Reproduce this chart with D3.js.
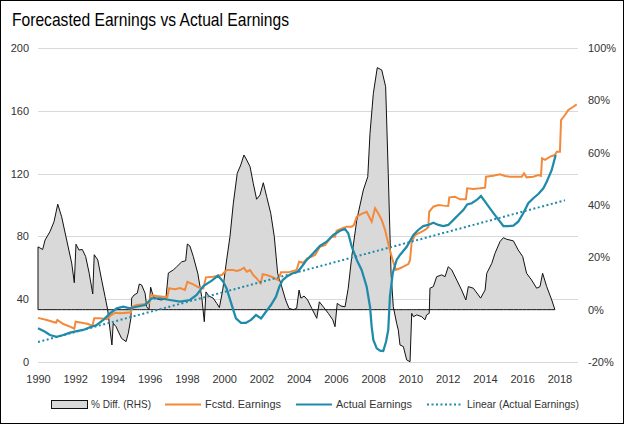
<!DOCTYPE html>
<html>
<head>
<meta charset="utf-8">
<script src="https://cdn.jsdelivr.net/npm/d3@7"></script>
<style>
    body { margin: 0; background: #fff; }
    svg { display: block; font-family: 'Liberation Sans', Arial, sans-serif; }
</style>
</head>
<body>
<div id="chart"></div>
<script>
'use strict';

// % difference between forecast and actual (right axis), [year, %]
let pctDiff = [
    [1990.00, 24], [1990.25, 23], [1990.38, 26.6], [1990.64, 29.8], [1990.86, 33.6], [1991.06, 40.3],
    [1991.27, 35.5], [1991.54, 26.6], [1991.81, 17.8], [1991.95, 10.3], [1992.04, 25], [1992.20, 22.8],
    [1992.38, 23], [1992.56, 20.3], [1992.75, 13.9], [1992.94, 6], [1993.02, 21], [1993.21, 19],
    [1993.42, 11.3], [1993.60, 5], [1993.74, 0], [1993.87, -7.8], [1993.97, -13.5], [1994.04, -5.2],
    [1994.19, -6.5], [1994.49, -11], [1994.73, -12.2], [1994.85, -9], [1994.99, -3.3], [1995.03, 4.4],
    [1995.16, 5.6], [1995.33, 6.3], [1995.44, 9.8], [1995.57, 9.4], [1995.75, 6.3], [1995.84, 1.1],
    [1995.96, 0], [1996.05, 8.6], [1996.19, 5], [1996.43, 4], [1996.64, 3.7], [1996.87, 4.4],
    [1997.00, 14], [1997.27, 15.2], [1997.45, 16.4], [1997.72, 18.3], [1997.93, 18.7], [1998.02, 25.1],
    [1998.16, 24.3], [1998.34, 20.3], [1998.58, 13.9], [1998.79, 5], [1998.93, -4.6], [1999.02, 6.8],
    [1999.18, 5.2], [1999.41, 4.4], [1999.60, 2.4], [1999.74, 0.8], [1999.92, 7.5], [2000.13, 19],
    [2000.31, 27.9], [2000.49, 40.7], [2000.70, 52.1], [2000.89, 55.3], [2001.06, 59.1], [2001.21, 57.2],
    [2001.39, 54.6], [2001.56, 48.3], [2001.74, 42.2], [2001.92, 43.8], [2002.10, 48.5], [2002.28, 43.2],
    [2002.50, 36.8], [2002.69, 27.9], [2002.87, 13.9], [2003.09, 8.8], [2003.30, 3.7], [2003.48, 0.5],
    [2003.71, 0], [2003.89, 0.5], [2004.02, 7.5], [2004.12, 4.4], [2004.29, 5.2], [2004.48, 3.7],
    [2004.70, 0.5], [2004.97, -3.3], [2005.11, 3], [2005.32, 1.1], [2005.59, -1.4], [2005.83, -3.9],
    [2005.95, -6.5], [2006.07, 2.4], [2006.27, 1.4], [2006.49, 1.1], [2006.66, 8.2], [2006.85, 20.3],
    [2007.12, 34.3], [2007.47, 45.7], [2007.71, 50.8], [2007.83, 67.4], [2008.01, 82.7], [2008.22, 92.5],
    [2008.46, 91.6], [2008.67, 85.2], [2008.81, 52], [2008.96, 13.9], [2009.08, 1.1], [2009.26, -5.2],
    [2009.35, -7.8], [2009.44, -13.5], [2009.62, -14.1], [2009.80, -19.2], [2009.98, -19.9], [2010.07, -1.4],
    [2010.16, -2.7], [2010.34, -2], [2010.61, -2.7], [2010.78, -3.9], [2010.87, -2], [2011.01, -1.4],
    [2011.05, 8.2], [2011.23, 8.8], [2011.41, 12.6], [2011.68, 13.3], [2011.86, 12.6], [2012.03, 16.4],
    [2012.22, 15.2], [2012.49, 11.3], [2012.75, 7.5], [2012.98, 3.7], [2013.11, 8.8], [2013.38, 8.2],
    [2013.65, 5.6], [2013.77, 4.4], [2014.01, 7.5], [2014.10, 13.9], [2014.37, 17.7], [2014.54, 21.5],
    [2014.81, 26], [2014.99, 27.5], [2015.17, 26.9], [2015.53, 26.3], [2015.79, 22.8], [2016.03, 20.3],
    [2016.24, 13.9], [2016.51, 11.3], [2016.78, 8.2], [2016.96, 8.8], [2017.10, 13.9], [2017.32, 8.8],
    [2017.59, 3.7], [2017.76, 0]
];

// forecasted earnings (left axis), [year, value]
let fcstEarnings = [
    [1990.00, 28.1], [1990.47, 26.8], [1990.97, 25], [1991.04, 26.8], [1991.36, 24.2], [1991.72, 22.5],
    [1991.95, 21.2], [1992.02, 25.7], [1992.35, 25], [1992.70, 24.2], [1992.92, 22.9], [1993.02, 27.8],
    [1993.33, 27.8], [1993.69, 27.2], [1993.87, 29.3], [1994.14, 31.4], [1994.40, 31], [1994.76, 31.4],
    [1994.99, 31.7], [1995.06, 35.2], [1995.30, 36.3], [1995.65, 36.8], [1995.98, 37.4], [1996.05, 42.7],
    [1996.37, 42], [1996.73, 41.6], [1996.94, 41.2], [1997.04, 46.9], [1997.36, 46.3], [1997.63, 47.1],
    [1997.89, 45.9], [1998.02, 51.1], [1998.34, 49.5], [1998.61, 47.6], [1998.88, 46.9], [1999.02, 53.9],
    [1999.41, 54.3], [1999.87, 55.4], [2000.13, 58.6], [2000.49, 58.6], [2000.67, 58], [2000.85, 58.6],
    [2001.06, 60], [2001.21, 57.5], [2001.39, 58.6], [2001.56, 55.4], [2001.74, 53.3], [2001.96, 50.1],
    [2002.07, 55.9], [2002.28, 55.4], [2002.55, 54.3], [2002.90, 52.2], [2003.05, 57.1], [2003.44, 57.1],
    [2003.89, 58.6], [2004.02, 63.9], [2004.25, 63.2], [2004.46, 66], [2004.70, 67.1], [2004.88, 68.2],
    [2005.14, 73.4], [2005.41, 74.5], [2005.59, 77.1], [2005.77, 79.8], [2005.95, 79.8], [2006.04, 83.6],
    [2006.36, 85.2], [2006.58, 86.2], [2006.85, 86.2], [2006.97, 87.3], [2007.12, 92.6], [2007.38, 94.3],
    [2007.65, 95.7], [2007.92, 89.4], [2008.10, 97.9], [2008.27, 94.7], [2008.46, 90.4], [2008.64, 84.1],
    [2008.85, 73.4], [2009.02, 66], [2009.22, 58.6], [2009.44, 59.7], [2009.62, 60.7], [2009.89, 62.4],
    [2009.98, 65], [2010.07, 76.6], [2010.25, 80.9], [2010.51, 82.4], [2010.78, 84.1], [2010.96, 85.8],
    [2011.01, 95.7], [2011.23, 98.9], [2011.50, 100], [2011.77, 99.6], [2012.03, 99.4], [2012.09, 104.9],
    [2012.39, 105.3], [2012.66, 103.6], [2012.98, 103.6], [2013.05, 110.6], [2013.38, 110.2], [2013.74, 110.6],
    [2014.01, 111], [2014.06, 118], [2014.45, 118.7], [2014.81, 119.6], [2015.08, 118.5], [2015.35, 118],
    [2015.71, 118], [2015.98, 118], [2016.10, 120.2], [2016.24, 117.6], [2016.60, 118], [2016.87, 119.1],
    [2017.01, 118.5], [2017.07, 129.7], [2017.23, 128.7], [2017.50, 130.8], [2017.76, 131.8], [2017.86, 133.9],
    [2018.03, 133.9], [2018.09, 154.1], [2018.30, 157.3], [2018.48, 160.5], [2018.75, 162.6], [2018.93, 164.1]
];

// actual earnings (left axis), [year, value]
let actualEarnings = [
    [1990.00, 21.5], [1990.38, 19.3], [1990.64, 17.2], [1991.00, 16.1], [1991.36, 17.2], [1991.72, 18.7],
    [1992.08, 19.7], [1992.43, 20.4], [1992.79, 22.1], [1993.15, 23.6], [1993.51, 26.8], [1993.87, 31],
    [1994.23, 34.2], [1994.58, 35.2], [1994.94, 34.2], [1995.30, 35.2], [1995.75, 36.3], [1996.11, 40.6],
    [1996.55, 40.6], [1997.09, 39.5], [1997.63, 38.4], [1998.16, 39.5], [1998.52, 42.7], [1998.88, 48.4],
    [1999.33, 51.8], [1999.67, 55], [1999.95, 51.1], [2000.13, 46.9], [2000.36, 38], [2000.63, 27.8],
    [2000.90, 25], [2001.17, 25], [2001.44, 26.8], [2001.71, 29.9], [2001.98, 27.8], [2002.24, 32],
    [2002.51, 36.3], [2002.78, 41.6], [2002.96, 48], [2003.14, 52.2], [2003.41, 54.8], [2003.68, 56.5],
    [2003.95, 57.5], [2004.16, 60.7], [2004.43, 65], [2004.78, 69.2], [2005.14, 73.9], [2005.50, 76.6],
    [2005.86, 80.9], [2006.22, 83.6], [2006.49, 84.7], [2006.66, 82], [2006.85, 73.4], [2007.12, 65],
    [2007.38, 58.6], [2007.65, 48], [2007.83, 35.2], [2007.92, 22.5], [2008.01, 14], [2008.19, 8.7],
    [2008.37, 7.2], [2008.54, 7], [2008.69, 12.9], [2008.81, 20.4], [2008.90, 41.6], [2009.05, 56.5],
    [2009.26, 65], [2009.44, 68.2], [2009.80, 73.4], [2010.16, 80.9], [2010.42, 84.1], [2010.69, 86.6],
    [2010.96, 87.3], [2011.23, 88.7], [2011.50, 87.3], [2011.77, 86.6], [2012.03, 87.3], [2012.30, 90.4],
    [2012.57, 93.6], [2012.84, 96.8], [2013.05, 100.4], [2013.29, 101.1], [2013.56, 103.2], [2013.79, 105.7],
    [2014.01, 102.1], [2014.27, 97.9], [2014.54, 93.6], [2014.81, 89.4], [2014.99, 86.6], [2015.26, 86.6],
    [2015.53, 86.8], [2015.79, 89.4], [2016.06, 94.7], [2016.33, 101.1], [2016.60, 104.3], [2016.87, 107],
    [2017.14, 110.6], [2017.32, 114.8], [2017.59, 122.3], [2017.80, 131.8]
];

let leftTicks = [0, 40, 80, 120, 160, 200];
let rightTicks = [-20, 0, 20, 40, 60, 80, 100];
let yearTicks = d3.range(1990, 2019, 2);
let legendLabels = ['% Diff. (RHS)', 'Fcstd. Earnings', 'Actual Earnings', 'Linear (Actual Earnings)'];

let width = 624,
    height = 424;
let orange = '#f4893a',
    blue = '#1f8aa9';

let svg = d3.select('#chart')
    .append('svg')
    .attr('width', width)
    .attr('height', height);

svg.append('rect')
    .attr('x', 0.5).attr('y', 0.5)
    .attr('width', width - 1).attr('height', height - 1)
    .attr('fill', '#fff')
    .attr('stroke', '#000');

svg.append('text')
    .attr('x', 12)
    .attr('y', 26)
    .attr('font-size', 19)
    .attr('fill', '#000')
    .attr('textLength', 277)
    .attr('lengthAdjust', 'spacingAndGlyphs')
    .text('Forecasted Earnings vs Actual Earnings');

let x = d3.scaleLinear().domain([1990, 2019]).range([38, 578]);
let yLeft = d3.scaleLinear().domain([0, 200]).range([362, 48]);
let yRight = d3.scaleLinear().domain([-20, 100]).range([362, 48]);

// gridlines
svg.append('g')
    .selectAll('line')
    .data(leftTicks)
    .enter().append('line')
    .attr('x1', x.range()[0])
    .attr('x2', x.range()[1])
    .attr('y1', function(d) { return Math.round(yLeft(d)) + 0.5; })
    .attr('y2', function(d) { return Math.round(yLeft(d)) + 0.5; })
    .attr('stroke', '#d9d9d9');

// axes
function styleAxis(g) {
    g.select('.domain').remove();
    g.selectAll('text').attr('fill', '#333').attr('font-size', 11);
}
svg.append('g')
    .attr('transform', 'translate(38,0)')
    .call(d3.axisLeft(yLeft).tickValues(leftTicks).tickSize(0).tickPadding(9))
    .call(styleAxis);
svg.append('g')
    .attr('transform', 'translate(578,0)')
    .call(d3.axisRight(yRight).tickValues(rightTicks).tickSize(0).tickPadding(10)
        .tickFormat(function(d) { return d + '%'; }))
    .call(styleAxis);
svg.append('g')
    .attr('transform', 'translate(0,362)')
    .call(d3.axisBottom(x).tickValues(yearTicks).tickSize(0).tickPadding(13).tickFormat(d3.format('d')))
    .call(styleAxis);

// % diff area with outline
let area = d3.area()
    .x(function(d) { return x(d[0]); })
    .y0(yRight(0))
    .y1(function(d) { return yRight(d[1]); });
svg.append('path')
    .datum(pctDiff)
    .attr('d', area)
    .attr('fill', '#d9d9d9')
    .attr('stroke', '#111')
    .attr('stroke-width', 1);

let line = d3.line()
    .x(function(d) { return x(d[0]); })
    .y(function(d) { return yLeft(d[1]); });

svg.append('path')
    .datum(fcstEarnings)
    .attr('d', line)
    .attr('fill', 'none')
    .attr('stroke', orange)
    .attr('stroke-width', 2);

svg.append('path')
    .datum(actualEarnings)
    .attr('d', line)
    .attr('fill', 'none')
    .attr('stroke', blue)
    .attr('stroke-width', 2.25);

// linear trend of actual earnings, fitted on monthly points, extended half a year
let interp = d3.scaleLinear()
    .domain(actualEarnings.map(function(d) { return d[0]; }))
    .range(actualEarnings.map(function(d) { return d[1]; }));
let lastYear = actualEarnings[actualEarnings.length - 1][0];
let monthly = d3.range(1990, lastYear, 1 / 12).map(function(t) { return [t, interp(t)]; });
let mx = d3.mean(monthly, function(d) { return d[0]; }),
    my = d3.mean(monthly, function(d) { return d[1]; });
let slope = d3.sum(monthly, function(d) { return (d[0] - mx) * (d[1] - my); }) /
    d3.sum(monthly, function(d) { return (d[0] - mx) * (d[0] - mx); });
let trend = [1990, lastYear + 0.5].map(function(t) { return [t, my + slope * (t - mx)]; });

svg.append('path')
    .datum(trend)
    .attr('d', line)
    .attr('fill', 'none')
    .attr('stroke', blue)
    .attr('stroke-width', 2)
    .attr('stroke-dasharray', '2,2.5');

// legend
let legendX = [51, 165, 296, 427];
let legendW = [60, 76, 76, 112];
let legend = svg.append('g').attr('font-size', 11).attr('fill', '#333');
legendLabels.forEach(function(label, i) {
    let lx = legendX[i];
    if (i === 0) {
        legend.append('rect')
            .attr('x', lx + 0.5).attr('y', 400.5)
            .attr('width', 36).attr('height', 8)
            .attr('fill', '#d9d9d9').attr('stroke', '#111');
    } else {
        legend.append('line')
            .attr('x1', lx).attr('x2', lx + 36)
            .attr('y1', 404.5).attr('y2', 404.5)
            .attr('stroke', i === 1 ? orange : blue)
            .attr('stroke-width', 2)
            .attr('stroke-dasharray', i === 3 ? '2,2.5' : null);
    }
    legend.append('text')
        .attr('x', lx + 40)
        .attr('y', 408)
        .attr('textLength', legendW[i])
        .attr('lengthAdjust', 'spacingAndGlyphs')
        .text(label);
});
</script>
</body>
</html>
